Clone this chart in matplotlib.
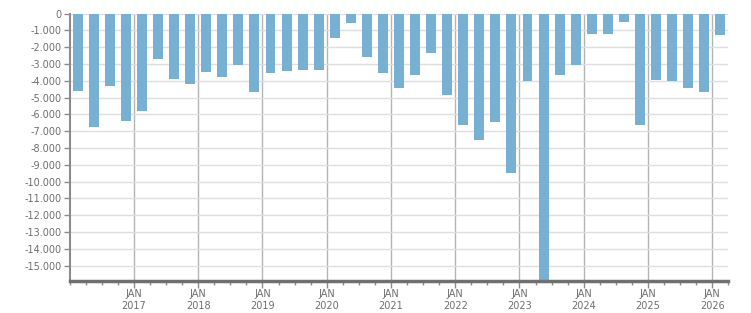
import numpy as np
import pandas as pd
import matplotlib
matplotlib.use("Agg")
import matplotlib.pyplot as plt
from matplotlib.ticker import FuncFormatter, MultipleLocator

# quarterly values, 2016 Q1 .. 2026 Q1
first_quarter = "2016Q1"
values = [
    -4600, -6730, -4300, -6370,   # 2016
    -5770, -2680, -3870, -4170,   # 2017
    -3450, -3750, -3040, -4640,   # 2018
    -3510, -3390, -3330, -3330,   # 2019
    -1430, -540, -2560, -3510,    # 2020
    -4400, -3630, -2320, -4820,   # 2021
    -6610, -7500, -6430, -9460,   # 2022
    -3990, -16500, -3630, -3040,  # 2023
    -1190, -1190, -480, -6610,    # 2024
    -3930, -3990, -4400, -4640,   # 2025
    -1250,                        # 2026
]
year_labels = [2017, 2018, 2019, 2020, 2021, 2022, 2023, 2024, 2025, 2026]

quarters = pd.period_range(first_quarter, periods=len(values), freq="Q")
x = quarters.year + (quarters.quarter - 0.5) / 4

bar_color = "#78b0d3"
text_color = "#6e6e6e"

fig = plt.figure(figsize=(7.51, 3.13), dpi=100)
ax = fig.add_axes([69.7 / 751, 1 - 280.7 / 313, (728.3 - 69.7) / 751, (280.7 - 13.7) / 313])

ax.bar(x, values, width=0.155, color=bar_color, zorder=3)

ax.set_ylim(-15900, 0)
ax.set_xlim(2016, 2026.25)

# horizontal grid every 1000
ax.yaxis.set_major_locator(MultipleLocator(1000))
ax.yaxis.set_major_formatter(FuncFormatter(lambda v, p: f"{v:,.0f}".replace(",", ".")))
ax.grid(axis="y", color="#dedede", linewidth=1, zorder=0)

# year lines + quarter ticks
ax.set_xticks(year_labels)
ax.set_xticklabels([f"JAN\n{y}" for y in year_labels])
ax.set_xticks(np.arange(2016, 2026.3, 0.25), minor=True)
for y in year_labels:
    ax.axvline(y, color="#b4b4b4", linewidth=1, zorder=1)

for s in ["top", "right"]:
    ax.spines[s].set_visible(False)
ax.spines["left"].set_color("#8c8c8c")
ax.spines["left"].set_linewidth(1.5)
ax.spines["bottom"].set_color("#707070")
ax.spines["bottom"].set_linewidth(2.5)
ax.spines["bottom"].set_zorder(5)

ax.tick_params(axis="y", length=4, width=1, color="#8c8c8c", labelsize=7,
               labelcolor=text_color, pad=2)
ax.tick_params(axis="x", which="major", length=5, width=1, color="#8c8c8c",
               labelsize=7, labelcolor=text_color, pad=1)
ax.tick_params(axis="x", which="minor", length=3, width=1, color="#8c8c8c")
for lbl in ax.get_xticklabels():
    lbl.set_linespacing(1.2)

fig.savefig("out.png", dpi=100)
